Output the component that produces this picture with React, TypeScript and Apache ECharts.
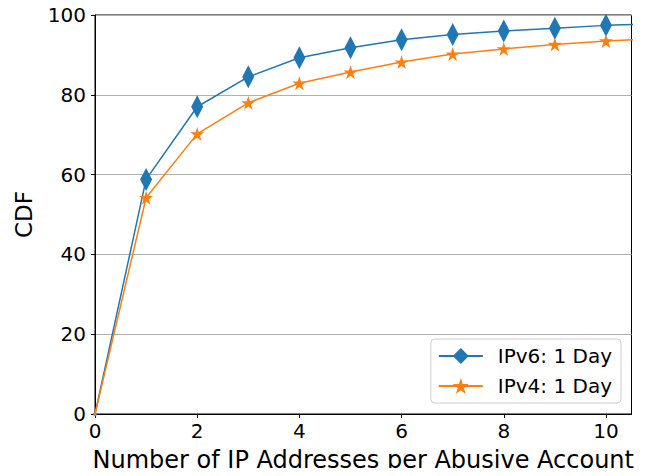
import React, { useEffect, useRef } from "react";
import * as echarts from "echarts";

// Number of IP addresses per abusive account (x) and cumulative share in % (y)
const xValues = [0, 1, 2, 3, 4, 5, 6, 7, 8, 9, 10, 11];
const ipv6Cdf = [0, 58.8, 77.0, 84.5, 89.3, 91.8, 93.8, 95.1, 96.0, 96.7, 97.4, 97.8];
const ipv4Cdf = [0, 54.2, 70.2, 78.0, 82.9, 85.7, 88.2, 90.2, 91.5, 92.6, 93.5, 94.1];
const xTicks = [0, 2, 4, 6, 8, 10];
const yTicks = [0, 20, 40, 60, 80, 100];

const seriesNames = ["IPv6: 1 Day", "IPv4: 1 Day"];
const BLUE = "#1f77b4";
const ORANGE = "#ff7f0e";
const FONT = "DejaVu Sans";

const STAR =
  "path://M0,-10 L2.245,-3.09 L9.51,-3.09 L3.63,1.18 L5.88,8.09 L0,3.82 L-5.88,8.09 L-3.63,1.18 L-9.51,-3.09 L-2.245,-3.09 Z";

function toPoints(values: number[]) {
  return xValues.map((x, i) => {
    const point: any = { value: [x, values[i]] };
    // the point at the origin sits on the axes corner, so only a sliver of it shows
    if (x === 0) point.symbolSize = [5, 5];
    return point;
  });
}

export default function App() {
  const ref = useRef<HTMLDivElement>(null);

  useEffect(() => {
    if (!ref.current) return;
    const chart = echarts.init(ref.current, undefined, { renderer: "svg" });
    chart.setOption({
      animation: false,
      backgroundColor: "#ffffff",
      grid: {
        left: 95,
        right: 14.5,
        top: 15,
        bottom: 62,
        outerBoundsMode: "none",
        containLabel: false,
        show: true,
        borderColor: "#000",
        borderWidth: 1,
        backgroundColor: "transparent",
      },
      xAxis: {
        type: "value",
        min: 0,
        max: 10.5,
        interval: 2,
        name: "Number of IP Addresses per Abusive Account",
        nameLocation: "middle",
        nameGap: 34,
        nameTextStyle: { fontFamily: FONT, fontSize: 24, color: "#000" },
        axisLine: { show: true, onZero: false, lineStyle: { color: "#000", width: 1 } },
        axisTick: { show: true, inside: false, length: 4, lineStyle: { color: "#000" }, customValues: xTicks },
        axisLabel: {
          fontFamily: FONT,
          fontSize: 20,
          color: "#000",
          margin: 7,
          customValues: xTicks,
        },
        splitLine: { show: false },
      },
      yAxis: {
        type: "value",
        min: 0,
        max: 100,
        interval: 20,
        name: "CDF",
        nameLocation: "middle",
        nameGap: 60,
        nameTextStyle: { fontFamily: FONT, fontSize: 23, color: "#000" },
        axisLine: { show: true, onZero: false, lineStyle: { color: "#000", width: 1 } },
        axisTick: { show: true, inside: false, length: 4, lineStyle: { color: "#000" } },
        axisLabel: { fontFamily: FONT, fontSize: 20, color: "#000", margin: 9, customValues: yTicks },
        splitLine: { show: true, lineStyle: { color: "#b0b0b0", width: 1 } },
      },
      legend: {
        data: seriesNames,
        orient: "vertical",
        right: 25,
        bottom: 73,
        itemWidth: 44,
        itemHeight: 20,
        itemGap: 10,
        padding: [7, 9, 7, 7],
        backgroundColor: "rgba(255,255,255,0.8)",
        borderColor: "#cccccc",
        borderWidth: 1,
        borderRadius: 4,
        textStyle: { fontFamily: FONT, fontSize: 20, color: "#000", padding: [0, 0, 0, 10] },
      },
      series: [
        {
          name: seriesNames[0],
          type: "line",
          data: toPoints(ipv6Cdf),
          clip: true,
          color: BLUE,
          symbol: "diamond",
          symbolSize: [12, 23],
          showAllSymbol: true,
          lineStyle: { color: BLUE, width: 1.5 },
          itemStyle: { color: BLUE, borderWidth: 0 },
          z: 3,
        },
        {
          name: seriesNames[1],
          type: "line",
          data: toPoints(ipv4Cdf),
          clip: true,
          color: ORANGE,
          symbol: STAR,
          symbolSize: 14,
          showAllSymbol: true,
          lineStyle: { color: ORANGE, width: 1.5 },
          itemStyle: { color: ORANGE, borderWidth: 0 },
          z: 4,
        },
      ],
    });
    return () => chart.dispose();
  }, []);

  return <div ref={ref} style={{ width: 646, height: 476, margin: -8 }} />;
}
